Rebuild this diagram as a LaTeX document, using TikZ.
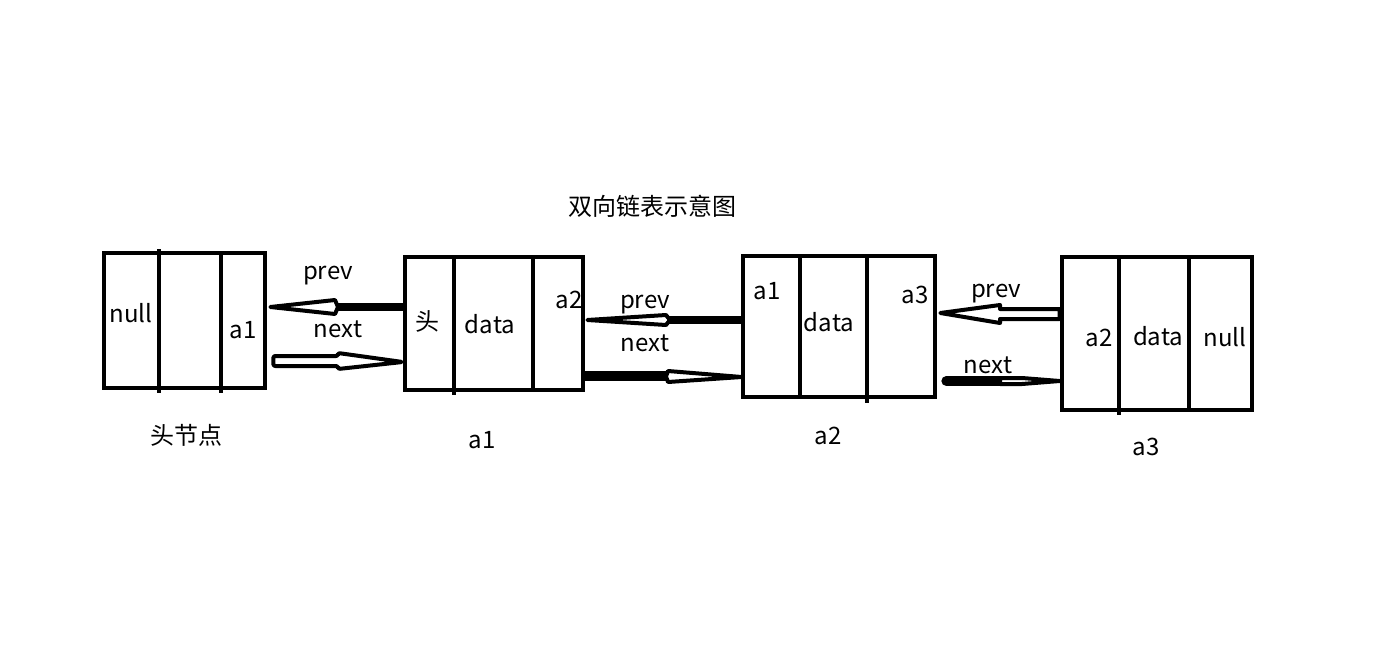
\documentclass[tikz,border=0pt]{standalone}
\usepackage{fontspec}
\setmainfont{Noto Sans CJK SC}
\usetikzlibrary{calc}
\begin{document}
\begin{tikzpicture}[x=0.75pt,y=-0.75pt,
  font=\fontsize{18}{20}\selectfont,
  box/.style 2 args={draw, line width=3.5pt, minimum width=#1*0.75pt, minimum height=#2*0.75pt, inner sep=0pt},
  lbl/.style={inner sep=0pt, anchor=base},
  divider/.style={line width=3.5pt},
  shaft/.style={line width=6pt},
  hollow/.style={fill=white, draw=black, line width=3pt, line join=round}]
\useasboundingbox (0,0) rectangle (1397,660);

% title
\node[lbl] (title) at (652,215) {双向链表示意图};

% boxes
\node[box={161}{135}] (h) at (184.5,320.5) {};
\node[box={178}{133}] (a1) at (494,323.5) {};
\node[box={192}{141}] (a2) at (839,326.5) {};
\node[box={190}{153}] (a3) at (1157,333.5) {};

% dividers
\draw[divider] (159,249) -- (159,393);
\draw[divider] (221,253) -- (221,393);
\draw[divider] (454,257) -- (454,395);
\draw[divider] (533,257) -- (533,390);
\draw[divider] (800,256) -- (800,397);
\draw[divider] (867,256) -- (867,403);
\draw[divider] (1119,257) -- (1119,415);
\draw[divider] (1189,257) -- (1189,410);

% cell texts
\node[lbl] (hnull) at (131,322) {null};
\node[lbl] (ha1) at (243,338) {a1};
\node[lbl] (a1head) at (427,330) {头};
\node[lbl] (a1data) at (490,333) {data};
\node[lbl] (a1a2) at (569,308) {a2};
\node[lbl] (a2a1) at (767,299) {a1};
\node[lbl] (a2data) at (829,331) {data};
\node[lbl] (a2a3) at (915,303) {a3};
\node[lbl] (a3a2) at (1099,346) {a2};
\node[lbl] (a3data) at (1158,345) {data};
\node[lbl] (a3null) at (1225,346) {null};

% labels under boxes
\node[lbl] (lh) at (186,444) {头节点};
\node[lbl] (l1) at (482,448) {a1};
\node[lbl] (l2) at (828,444) {a2};
\node[lbl] (l3) at (1146,455) {a3};

% arrow labels
\node[lbl] (p1) at (328,279) {prev};
\node[lbl] (n1) at (338,337) {next};
\node[lbl] (p2) at (645,308) {prev};
\node[lbl] (n2) at (645,351) {next};
\node[lbl] (p3) at (996,297) {prev};
\node[lbl] (n3) at (988,373) {next};

% prev: a1 -> head
\draw[shaft] (a1.west|-0,307) -- (333,307);
\filldraw[hollow] ($(h.east|-0,307)+(3,0)$) -- (335,300) -- (338,307) -- (335,314) -- cycle;

% next: head -> a1
\filldraw[hollow, rounded corners=1.5pt] ($(h.east|-0,356)+(6,0)$) -- (338,356) -- (338,353)
  -- (a1.west|-0,362) -- (338,369) -- (338,366) -- ($(h.east|-0,366)+(6,0)$) -- cycle;

% prev: a2 -> a1
\draw[line width=6.5pt] (a2.west|-0,320) -- (666,320);
\filldraw[hollow] ($(a1.east|-0,320)+(2,0)$) -- (666,315) -- (670,320) -- (666,325) -- cycle;

% next: a1 -> a2
\draw[line width=7pt] (a1.east|-0,376) -- (670,376);
\filldraw[hollow] (668,371) -- ($(a2.west|-0,377)+(1,0)$) -- (668,382) -- (666,376.5) -- cycle;

% prev: a3 -> a2
\filldraw[hollow] ($(a2.east|-0,313)+(3,0)$) -- (1000,305) -- (1000,309) -- (a3.west|-0,309)
  -- (a3.west|-0,319) -- (1000,319) -- (1000,323) -- cycle;

% next: a2 -> a3
\draw[line width=7.5pt, line cap=round] ($(a2.east|-0,381)+(9,0)$) -- (1001,381);
\filldraw[hollow] (1000,378) -- (1022,378) -- (a3.west|-0,381) -- (1022,384) -- (1000,384) -- cycle;
\end{tikzpicture}
\end{document}
